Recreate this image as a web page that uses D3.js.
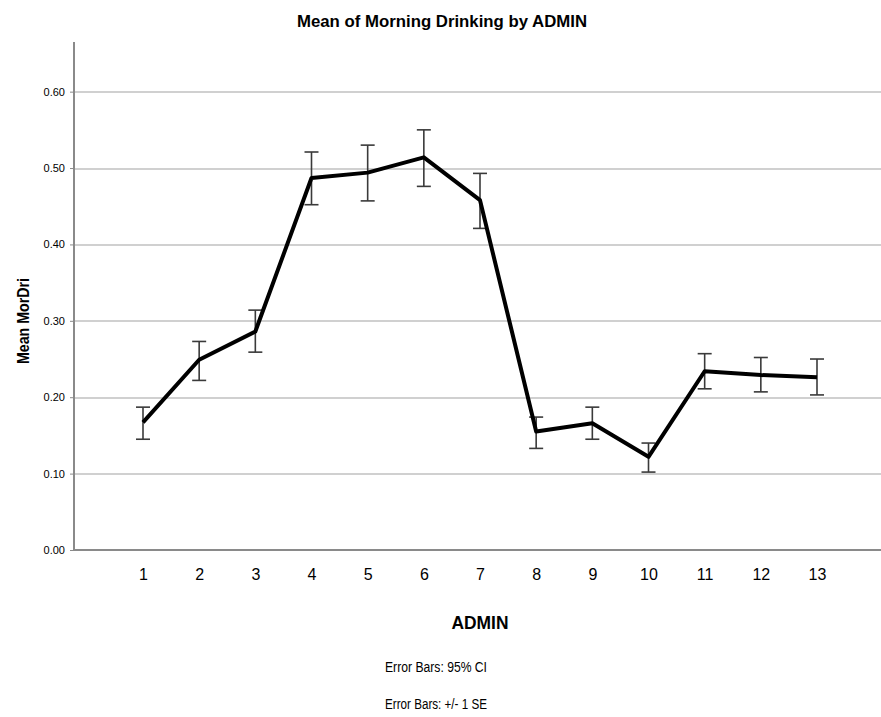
<!DOCTYPE html>
<html lang="en">
<head>
<meta charset="UTF-8">
<script src="https://d3js.org/d3.v7.min.js"></script>
<style>
  body { margin: 0; background: #fff; }
  svg text { font-family: "Liberation Sans Narrow", "Arial Narrow", "Liberation Sans", Arial, sans-serif; fill: #000; }
  .grid line { stroke: #d0d0d0; stroke-width: 2px; shape-rendering: crispEdges; }
  .grid path { display: none; }
  .axis path, .axis line { stroke: #8a8a8a; }
</style>
</head>
<body>
<script>
// data
var admin = ["1","2","3","4","5","6","7","8","9","10","11","12","13"];
var means = [0.167, 0.249, 0.286, 0.487, 0.494, 0.514, 0.458, 0.155, 0.166, 0.122, 0.234, 0.229, 0.226];
var upper = [0.187, 0.273, 0.314, 0.521, 0.530, 0.550, 0.493, 0.174, 0.187, 0.140, 0.257, 0.252, 0.250];
var lower = [0.145, 0.222, 0.259, 0.452, 0.457, 0.476, 0.421, 0.133, 0.145, 0.102, 0.211, 0.207, 0.203];
var yTicks = [0, 0.1, 0.2, 0.3, 0.4, 0.5, 0.6];

var W = 881, H = 717;
var margin = {top: 42, right: 0, bottom: 167, left: 74};
var width = W - margin.left - margin.right,
    height = H - margin.top - margin.bottom;

var svg = d3.select("body").append("svg")
  .attr("width", W).attr("height", H);

var g = svg.append("g")
  .attr("transform", "translate(" + margin.left + "," + margin.top + ")");

var x = d3.scalePoint()
  .domain(admin)
  .range([69, width - 64]);

var y = d3.scaleLinear()
  .domain([0, 0.665])
  .range([height, 0]);

// gridlines
g.append("g")
  .attr("class", "grid")
  .call(d3.axisLeft(y).tickValues(yTicks.slice(1)).tickSize(-width).tickFormat(""));

// y axis
var yAxis = g.append("g")
  .attr("class", "axis")
  .call(d3.axisLeft(y).tickValues(yTicks).tickSize(4).tickFormat(d3.format(".2f")));
yAxis.select(".domain").attr("d", "M0," + (height + 0.5) + "V0").style("stroke-width", 2);
yAxis.selectAll("text").attr("font-size", 11).attr("x", -9);

// x axis
var xAxis = g.append("g")
  .attr("class", "axis")
  .attr("transform", "translate(0," + height + ")")
  .call(d3.axisBottom(x).tickSize(0).tickPadding(19));
xAxis.select(".domain").attr("d", "M0,0H" + width).style("stroke-width", 2);
xAxis.selectAll("text").attr("font-size", 16);

// error bars
var pts = admin.map(function(a, i) { return {a: a, m: means[i], hi: upper[i], lo: lower[i]}; });
var eb = g.append("g").attr("stroke", "#3a3a3a").attr("stroke-width", 1.6).attr("fill", "none");
eb.selectAll(".v").data(pts).join("line")
  .attr("x1", function(d) { return x(d.a); }).attr("x2", function(d) { return x(d.a); })
  .attr("y1", function(d) { return y(d.hi); }).attr("y2", function(d) { return y(d.lo); });
eb.selectAll(".t").data(pts).join("line")
  .attr("x1", function(d) { return x(d.a) - 7; }).attr("x2", function(d) { return x(d.a) + 7; })
  .attr("y1", function(d) { return y(d.hi); }).attr("y2", function(d) { return y(d.hi); });
eb.selectAll(".b").data(pts).join("line")
  .attr("x1", function(d) { return x(d.a) - 7; }).attr("x2", function(d) { return x(d.a) + 7; })
  .attr("y1", function(d) { return y(d.lo); }).attr("y2", function(d) { return y(d.lo); });

// mean line
g.append("path")
  .datum(pts)
  .attr("fill", "none")
  .attr("stroke", "#000")
  .attr("stroke-width", 4)
  .attr("stroke-linejoin", "round")
  .attr("d", d3.line().x(function(d) { return x(d.a); }).y(function(d) { return y(d.m); }));

// titles
svg.append("text")
  .attr("x", 442).attr("y", 27)
  .attr("text-anchor", "middle")
  .attr("font-size", 17).attr("font-weight", "bold")
  .attr("textLength", 290).attr("lengthAdjust", "spacingAndGlyphs")
  .text("Mean of Morning Drinking by ADMIN");

svg.append("text")
  .attr("transform", "translate(29,321)rotate(-90)")
  .attr("text-anchor", "middle")
  .attr("font-size", 16).attr("font-weight", "bold")
  .attr("textLength", 86).attr("lengthAdjust", "spacingAndGlyphs")
  .text("Mean MorDri");

svg.append("text")
  .attr("x", 480).attr("y", 629)
  .attr("text-anchor", "middle")
  .attr("font-size", 18).attr("font-weight", "bold")
  .attr("textLength", 57).attr("lengthAdjust", "spacingAndGlyphs")
  .text("ADMIN");

svg.append("text")
  .attr("x", 436).attr("y", 672)
  .attr("text-anchor", "middle")
  .attr("font-size", 14)
  .attr("textLength", 102).attr("lengthAdjust", "spacingAndGlyphs")
  .text("Error Bars: 95% CI");

svg.append("text")
  .attr("x", 436).attr("y", 709)
  .attr("text-anchor", "middle")
  .attr("font-size", 14)
  .attr("textLength", 102).attr("lengthAdjust", "spacingAndGlyphs")
  .text("Error Bars: +/- 1 SE");
</script>
</body>
</html>
